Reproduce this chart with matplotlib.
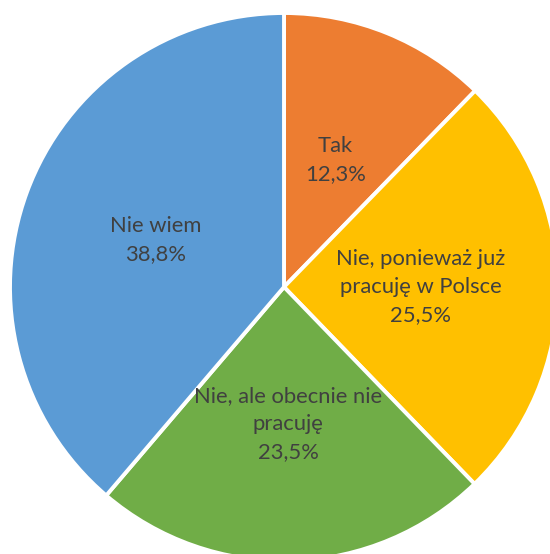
import matplotlib
matplotlib.use('Agg')
import matplotlib.pyplot as plt

# ---------------------------------------------------------#
# Data                                                     #
# ---------------------------------------------------------#
categories = ['Tak',
              'Nie, ponieważ już\npracuję w Polsce',
              'Nie, ale obecnie nie\npracuję',
              'Nie wiem']
shares     = [12.3, 25.5, 23.5, 38.8]
colors     = ['#ED7D31', '#FFC000', '#70AD47', '#5B9BD5']

labels = [c + '\n' + ('%.1f' % v).replace('.', ',') + '%' for c, v in zip(categories, shares)]

# ---------------------------------------------------------#
# Plot                                                     #
# ---------------------------------------------------------#
W, H = 550, 554
fig = plt.figure(figsize=(W/100, H/100), dpi=100)
ax  = fig.add_axes([0, 0, 1, 1])

wedges, texts = ax.pie(shares,
                       labels=labels,
                       colors=colors,
                       startangle=90,
                       counterclock=False,
                       center=(284, H - 287),
                       radius=274,
                       labeldistance=0.5,
                       wedgeprops=dict(edgecolor='white', linewidth=2.8),
                       textprops=dict(fontsize=15.8, color='#404040', family='Lato'))
for t in texts:
    t.set_horizontalalignment('center')
    t.set_verticalalignment('center')
    t.set_multialignment('center')
    t.set_linespacing(1.5)

ax.set_xlim(0, W)
ax.set_ylim(0, H)
ax.set_aspect('equal')
ax.axis('off')

fig.savefig('out.png', dpi=100)
